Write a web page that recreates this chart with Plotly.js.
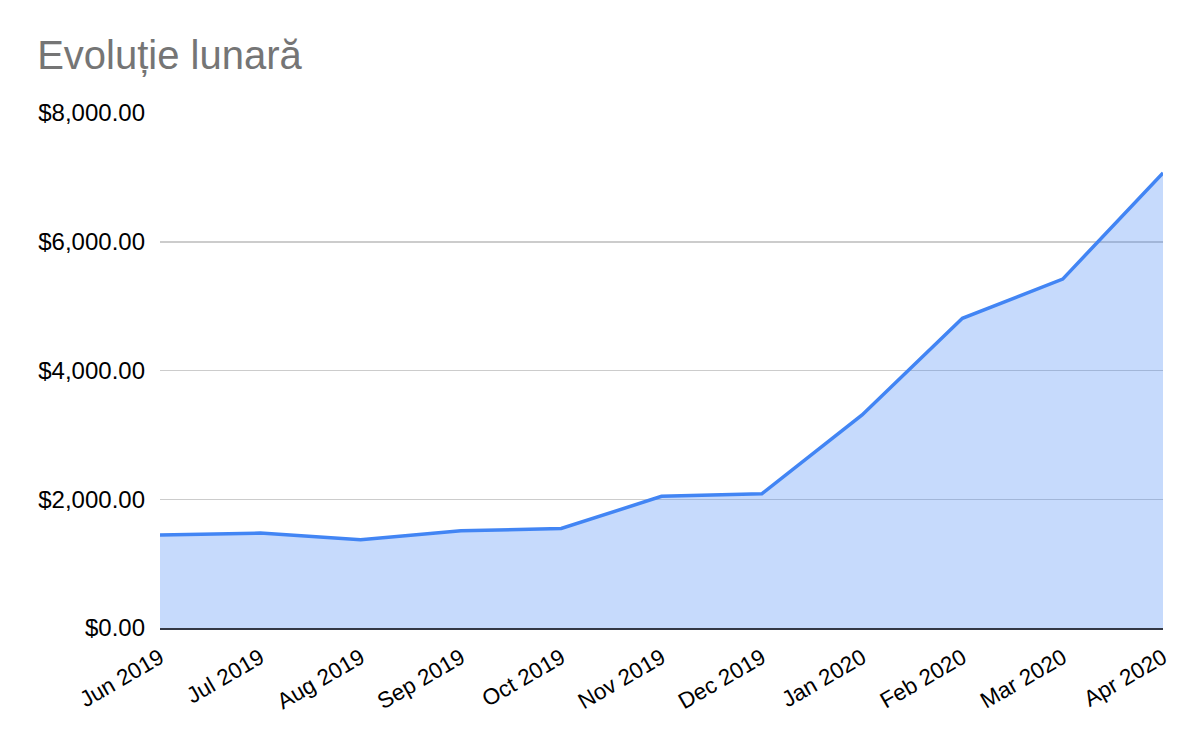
<!DOCTYPE html>
<html>
<head>
<meta charset="utf-8">
<script src="https://cdn.plot.ly/plotly-3.0.1.min.js"></script>
<style>html,body{margin:0;padding:0;background:#fff;}#chart{width:1200px;height:742px;}</style>
</head>
<body>
<div id="chart"></div>
<script>
const months = ["Jun 2019","Jul 2019","Aug 2019","Sep 2019","Oct 2019","Nov 2019","Dec 2019","Jan 2020","Feb 2020","Mar 2020","Apr 2020"];
const values = [1445, 1475, 1370, 1510, 1545, 2045, 2085, 3310, 4810, 5420, 7070];
const yTicks = [0, 2000, 4000, 6000, 8000];
const yTickLabels = ["$0.00", "$2,000.00", "$4,000.00", "$6,000.00", "$8,000.00"];

Plotly.newPlot("chart", [{
  x: months,
  y: values,
  type: "scatter",
  mode: "lines",
  fill: "tozeroy",
  fillcolor: "rgba(66,133,244,0.3)",
  line: {color: "#4285F4", width: 3.5},
  hoverinfo: "x+y"
}], {
  width: 1200,
  height: 742,
  paper_bgcolor: "#ffffff",
  plot_bgcolor: "#ffffff",
  margin: {l: 160, r: 37, t: 113, b: 114},
  font: {family: "Liberation Sans, Arial, sans-serif", color: "#000"},
  title: {text: "Evoluție lunară", x: 0.031, xanchor: "left", y: 0.926, yanchor: "middle",
          font: {size: 40, color: "#757575", family: "Liberation Sans, Arial, sans-serif"}},
  showlegend: false,
  xaxis: {
    type: "category",
    range: [0, 10],
    tickangle: -30,
    tickfont: {size: 22.5, color: "#000"},
    showgrid: false,
    showline: true,
    linecolor: "#333845",
    linewidth: 2,
    ticks: "",
    ticklabelstandoff: 6,
    zeroline: false,
    fixedrange: true
  },
  yaxis: {
    range: [0, 8000],
    tickvals: yTicks,
    ticktext: yTickLabels,
    tickfont: {size: 24, color: "#000"},
    showgrid: true,
    gridcolor: "#cccccc",
    gridwidth: 1.5,
    zeroline: false,
    ticks: "",
    ticklabelstandoff: 14,
    fixedrange: true
  }
}, {displayModeBar: false, staticPlot: true});
</script>
</body>
</html>
